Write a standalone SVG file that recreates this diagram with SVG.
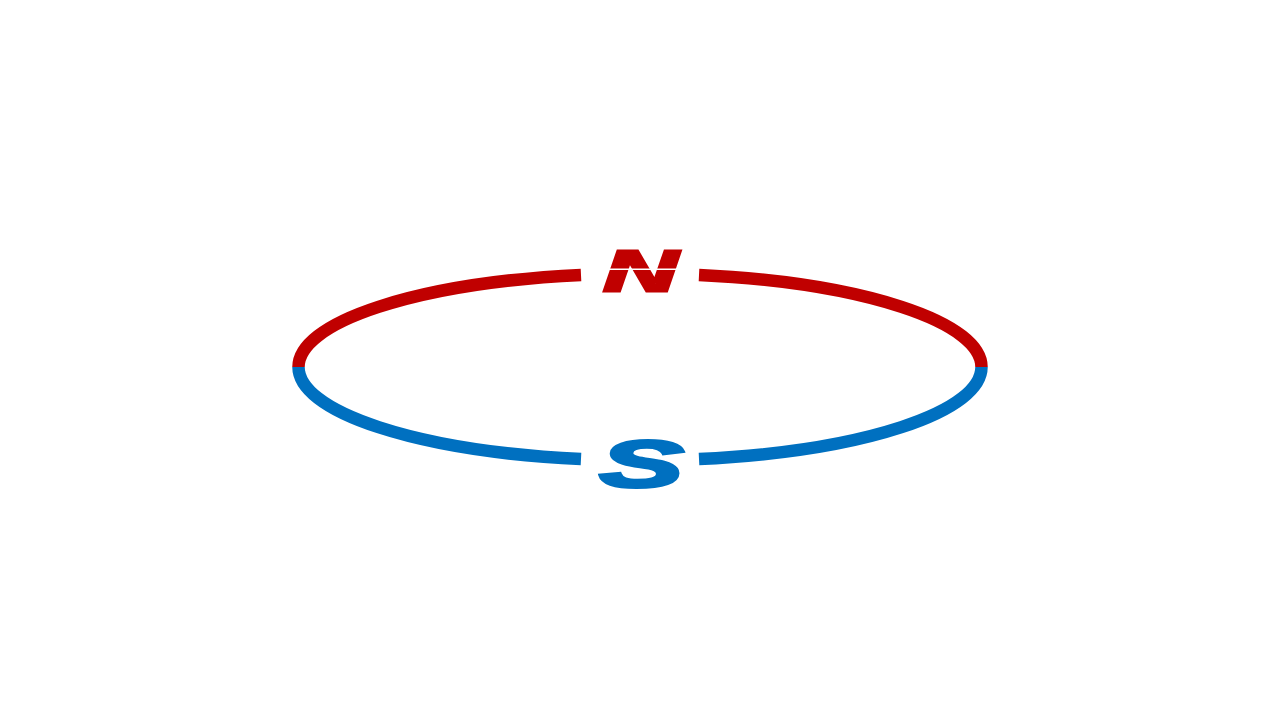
<svg xmlns="http://www.w3.org/2000/svg" width="1280" height="720" viewBox="0 0 1280 720">
  <style>
    .red { fill: none; stroke: #C00000; stroke-width: 12.5; stroke-linecap: butt; }
    .blue { fill: none; stroke: #0070C0; stroke-width: 12.5; stroke-linecap: butt; }
    .pole { font-family: "Liberation Sans", Arial, sans-serif; font-weight: bold; font-style: italic; text-anchor: middle; stroke-width: 3; stroke-linejoin: miter; }
  </style>
  <rect width="1280" height="720" fill="#FFFFFF"/>
  <g id="connectors">
    <path class="red" d="M 298.5 367 A 341.5 93.5 0 0 1 581 274.91"/>
    <path class="red" d="M 699 274.91 A 341.5 93.5 0 0 1 981.5 367"/>
    <path class="blue" d="M 298.5 367 A 341.5 93.5 0 0 0 581 459.09"/>
    <path class="blue" d="M 699 459.09 A 341.5 93.5 0 0 0 981.5 367"/>
  </g>
  <g id="north">
    <text class="pole" x="640.5" y="290.5" font-size="58" fill="#C00000" stroke="#C00000" textLength="74" lengthAdjust="spacingAndGlyphs">N</text>
    <rect x="596" y="268.5" width="90" height="1.5" fill="#FFFFFF"/>
  </g>
  <g id="south">
    <text class="pole" x="641.5" y="486.5" font-size="66" fill="#0070C0" stroke="#0070C0" textLength="84" lengthAdjust="spacingAndGlyphs">S</text>
  </g>
</svg>
